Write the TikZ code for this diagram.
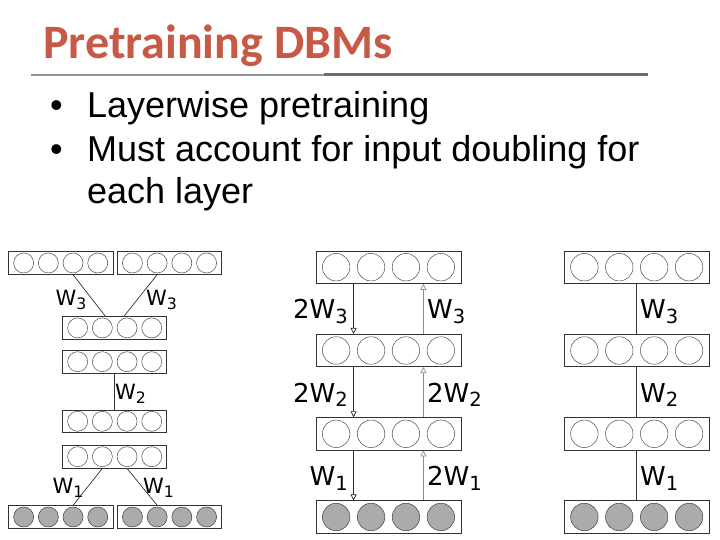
\documentclass[tikz,border=0pt]{standalone}
\usepackage{fontspec}
\setmainfont{Liberation Sans}
\newfontfamily\titlefont{Carlito}
\newfontfamily\figfont{DejaVu Sans}
\usetikzlibrary{arrows.meta, positioning, calc}

\definecolor{titlered}{HTML}{C65A46}
\definecolor{rulegray}{HTML}{6F6F6F}
\definecolor{visgray}{HTML}{ABABAB}

% one layer of four units: name, centre x, centre y, width, height, unit spacing, unit style
\newcommand{\unitlayer}[7]{%
  \node[layerbox, minimum width=#4pt, minimum height=#5pt] (#1) at (#2,#3) {};
  \foreach \k in {1,...,4}
    \node[#7] (#1-\k) at ($(#1.center)+({(\k-2.5)*#6},0)$) {};
  \coordinate (#1-dn) at ($(#1-1)!.5!(#1-2)$);
  \coordinate (#1-up) at ($(#1-3)!.5!(#1-4)$);
}
\newcommand{\wsub}[2]{#1W\raisebox{-0.18em}{\scalebox{0.75}{#2}}}

\begin{document}
\begin{tikzpicture}[
  x=1pt, y=-1pt,
  layerbox/.style={draw=black!80, fill=white, line width=0.8pt, inner sep=0pt},
  hid/.style={circle, draw=black!70, fill=white, line width=0.5pt, inner sep=0pt, minimum size=#1pt},
  vis/.style={circle, draw=black!75, fill=visgray, line width=0.5pt, inner sep=0pt, minimum size=#1pt},
  link/.style={draw=black!80, line width=0.7pt},
  downarr/.style={-{Triangle[open, length=6pt, width=6pt]}, draw=black!85, line width=0.7pt},
  uparr/.style={-{Triangle[open, length=6pt, width=6pt]}, draw=black!45, line width=0.7pt},
  wsmall/.style={font=\figfont\fontsize{21}{21}\selectfont, inner sep=0pt},
  wbig/.style={font=\figfont\fontsize{26}{26}\selectfont, inner sep=0pt},
  titletext/.style={font=\titlefont\bfseries\fontsize{48}{48}\selectfont, text=titlered, inner sep=0pt},
  bullettext/.style={font=\fontsize{36}{36}\selectfont, inner sep=0pt}
]
\useasboundingbox (0,0) rectangle (720,540);

% heading
\node[titletext, anchor=base west] (title) at (43,59) {Pretraining DBMs};
\draw[rulegray!75, line width=2pt] (31,75) -- (324,75);
\draw[rulegray, line width=3pt] (324,75) -- (648,75);

\node[bullettext, anchor=base west] (dot1) at (50,118) {•};
\node[bullettext, anchor=base west] (item1) at (87,118) {Layerwise pretraining};
\node[bullettext, anchor=base west] (dot2) at (50,162) {•};
\node[bullettext, anchor=base west] (item2) at (87,162) {Must account for input doubling for};
\node[bullettext, anchor=base west] (item3) at (87,204) {each layer};

% left: three separate RBMs
\unitlayer{lt1}{60.7}{263}{104.7}{22.6}{24.7}{hid=20}
\unitlayer{lt2}{169.5}{263}{104.7}{22.6}{24.7}{hid=20}
\unitlayer{lx1}{114.7}{327.9}{104}{22.6}{24.7}{hid=20}
\unitlayer{lx2}{114.7}{361.7}{104}{22.6}{24.7}{hid=20}
\unitlayer{lx3}{114.7}{421.3}{104}{22.6}{24.7}{hid=20}
\unitlayer{lx4}{114.7}{456.7}{104}{22.6}{24.7}{hid=20}
\unitlayer{lb1}{60.7}{517}{104.7}{22.6}{24.7}{vis=20}
\unitlayer{lb2}{169.5}{517}{104.7}{22.6}{24.7}{vis=20}

\draw[link] (lt1-3 |- lt1.south) -- ([xshift=3pt]lx1-2 |- lx1.north);
\draw[link] (lt2-2 |- lt2.south) -- ([xshift=-3pt]lx1-3 |- lx1.north);
\draw[link] (lx2.south) -- (lx3.north);
\draw[link] (lx4-2 |- lx4.south) -- (lb1-3 |- lb1.north);
\draw[link] (lx4-3 |- lx4.south) -- (lb2-2 |- lb2.north);

\node[wsmall] (lw3a) at (71,300) {\wsub{}{3}};
\node[wsmall] (lw3b) at (161.5,300) {\wsub{}{3}};
\node[wsmall] (lw2) at (130.5,394) {\wsub{}{2}};
\node[wsmall] (lw1a) at (68,487.5) {\wsub{}{1}};
\node[wsmall] (lw1b) at (158.5,487.5) {\wsub{}{1}};

% middle: directed stack
\unitlayer{mh3}{388.5}{267.2}{145}{32.3}{34.9}{hid=27.5}
\unitlayer{mh2}{388.5}{350.5}{145}{32.3}{34.9}{hid=27.5}
\unitlayer{mh1}{388.5}{433.8}{145}{32.3}{34.9}{hid=27.5}
\unitlayer{mv}{388.5}{517}{145}{32.3}{34.9}{vis=27.5}

\draw[downarr] (mh3-dn |- mh3.south) -- (mh2-dn |- mh2.north);
\draw[downarr] (mh2-dn |- mh2.south) -- (mh1-dn |- mh1.north);
\draw[downarr] (mh1-dn |- mh1.south) -- (mv-dn |- mv.north);
\draw[uparr] (mv-up |- mv.north) -- (mh1-up |- mh1.south);
\draw[uparr] (mh1-up |- mh1.north) -- (mh2-up |- mh2.south);
\draw[uparr] (mh2-up |- mh2.north) -- (mh3-up |- mh3.south);

\node[wbig, anchor=east] (mw3a) at (348,311.7) {\wsub{2}{3}};
\node[wbig, anchor=west] (mw3b) at (427,311.7) {\wsub{}{3}};
\node[wbig, anchor=east] (mw2a) at (348,395) {\wsub{2}{2}};
\node[wbig, anchor=west] (mw2b) at (427,395) {\wsub{2}{2}};
\node[wbig, anchor=east] (mw1a) at (348,478.3) {\wsub{}{1}};
\node[wbig, anchor=west] (mw1b) at (427,478.3) {\wsub{2}{1}};

% right: the composed DBM
\unitlayer{rh3}{636.7}{267.2}{145.3}{32.3}{34.9}{hid=27.5}
\unitlayer{rh2}{636.7}{350.5}{145.3}{32.3}{34.9}{hid=27.5}
\unitlayer{rh1}{636.7}{433.8}{145.3}{32.3}{34.9}{hid=27.5}
\unitlayer{rv}{636.7}{517}{145.3}{32.3}{34.9}{vis=27.5}

\draw[link] (rh3.south) -- (rh2.north);
\draw[link] (rh2.south) -- (rh1.north);
\draw[link] (rh1.south) -- (rv.north);

\node[wbig, anchor=west] (rw3) at (640,311.7) {\wsub{}{3}};
\node[wbig, anchor=west] (rw2) at (640,395) {\wsub{}{2}};
\node[wbig, anchor=west] (rw1) at (640,478.3) {\wsub{}{1}};
\end{tikzpicture}
\end{document}
